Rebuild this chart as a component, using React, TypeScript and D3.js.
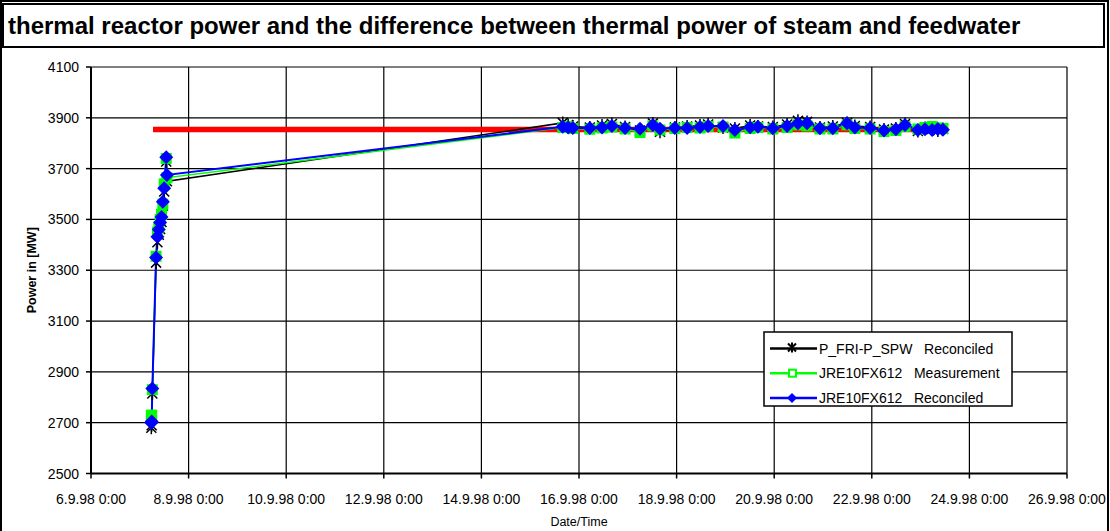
import React, { useEffect, useRef } from 'react';
import * as d3 from 'd3';

const parseTime = d3.timeParse('%d.%m.%y %H:%M');

const chartTitle = 'thermal reactor power and the difference between thermal power of steam and feedwater';

// sample timestamps shared by all three series
const times = [
  '07.09.98 05:40', '07.09.98 05:50', '07.09.98 06:10', '07.09.98 08:00',
  '07.09.98 08:40', '07.09.98 09:20', '07.09.98 10:00', '07.09.98 10:40',
  '07.09.98 11:20', '07.09.98 12:00', '07.09.98 13:00', '07.09.98 13:20',
  '15.09.98 16:00', '15.09.98 18:40', '15.09.98 21:00', '16.09.98 05:20',
  '16.09.98 11:20', '16.09.98 16:10', '16.09.98 22:40', '17.09.98 06:00',
  '17.09.98 12:20', '17.09.98 15:50', '17.09.98 23:10', '18.09.98 05:10',
  '18.09.98 11:30', '18.09.98 15:30', '18.09.98 22:50', '19.09.98 04:40',
  '19.09.98 12:10', '19.09.98 16:00', '19.09.98 23:20', '20.09.98 06:20',
  '20.09.98 11:40', '20.09.98 16:10', '20.09.98 22:30', '21.09.98 04:50',
  '21.09.98 11:50', '21.09.98 15:40', '21.09.98 23:10', '22.09.98 06:00',
  '22.09.98 11:50', '22.09.98 16:20', '22.09.98 22:40', '23.09.98 02:10',
  '23.09.98 05:40', '23.09.98 08:30', '23.09.98 11:00',
];

const friSpwReconciled = [
  2680, 2690, 2815, 3330, 3410, 3440, 3462, 3490, 3555, 3610, 3728, 3650,
  3880, 3872, 3866, 3862, 3870, 3876, 3864, 3850, 3878, 3845, 3862, 3866,
  3870, 3874, 3862, 3858, 3870, 3866, 3864, 3874, 3888, 3884, 3862, 3866,
  3880, 3868, 3864, 3854, 3858, 3876, 3848, 3860, 3856, 3850, 3856,
];

const fx612Measurement = [
  2728, 2730, 2830, 3355, 3450, 3470, 3500, 3520, 3560, 3640, 3740, 3664,
  3862, 3866, 3858, 3855, 3860, 3864, 3856, 3842, 3868, 3852, 3858, 3862,
  3860, 3866, 3864, 3840, 3858, 3862, 3856, 3862, 3872, 3868, 3856, 3856,
  3872, 3858, 3856, 3846, 3850, 3866, 3856, 3862, 3866, 3860, 3858,
];

const fx612Reconciled = [
  2700, 2705, 2835, 3350, 3432, 3460, 3488, 3510, 3570, 3623, 3745, 3675,
  3865, 3862, 3860, 3860, 3862, 3868, 3860, 3857, 3872, 3857, 3860, 3860,
  3864, 3868, 3868, 3852, 3863, 3865, 3859, 3868, 3879, 3879, 3859, 3859,
  3879, 3862, 3860, 3850, 3855, 3872, 3852, 3855, 3852, 3856, 3853,
];

// red reference line
const limitTimes = ['07.09.98 06:30', '23.09.98 11:00'];
const limitValues = [3854, 3854];

const xTicks = [
  '06.09.98 00:00', '08.09.98 00:00', '10.09.98 00:00', '12.09.98 00:00',
  '14.09.98 00:00', '16.09.98 00:00', '18.09.98 00:00', '20.09.98 00:00',
  '22.09.98 00:00', '24.09.98 00:00', '26.09.98 00:00',
];
const yTicks = [2500, 2700, 2900, 3100, 3300, 3500, 3700, 3900, 4100];

const legendNames = [
  'P_FRI-P_SPW   Reconciled',
  'JRE10FX612   Measurement',
  'JRE10FX612   Reconciled',
];

const FONT = "'Liberation Sans', Arial, sans-serif";

export default function App() {
  const svgRef = useRef<SVGSVGElement>(null);

  useEffect(() => {
    if (!svgRef.current) return;

    const svg = d3.select(svgRef.current);
    svg.selectAll('*').remove();

    const width = 1110;
    const height = 531;
    const margin = { top: 67, right: 43, bottom: 57.5, left: 91 };
    const innerWidth = width - margin.left - margin.right;
    const innerHeight = height - margin.top - margin.bottom;

    svg.attr('width', width).attr('height', height);

    // outer frame + title box
    svg.append('rect')
      .attr('x', 1).attr('y', 1).attr('width', 1107).attr('height', 560)
      .attr('fill', '#fff').attr('stroke', '#000').attr('stroke-width', 2);
    svg.append('rect')
      .attr('x', 3).attr('y', 4).attr('width', 1101).attr('height', 43)
      .attr('fill', '#fff').attr('stroke', '#000').attr('stroke-width', 2);
    svg.append('text')
      .attr('x', 8).attr('y', 34)
      .attr('font-family', FONT).attr('font-size', '24px').attr('font-weight', 'bold')
      .attr('fill', '#000')
      .text(chartTitle);

    const g = svg.append('g').attr('transform', `translate(${margin.left},${margin.top})`);

    const xDates = xTicks.map((d) => parseTime(d)!);
    const x = d3.scaleTime().domain([xDates[0], xDates[xDates.length - 1]]).range([0, innerWidth]);
    const y = d3.scaleLinear().domain([2500, 4100]).range([innerHeight, 0]);

    // grid
    yTicks.forEach((v) => {
      g.append('line')
        .attr('x1', 0).attr('x2', innerWidth).attr('y1', y(v)).attr('y2', y(v))
        .attr('stroke', '#000').attr('stroke-width', 1.2);
      g.append('line')
        .attr('x1', -5).attr('x2', 0).attr('y1', y(v)).attr('y2', y(v))
        .attr('stroke', '#000').attr('stroke-width', 1.5);
      g.append('text')
        .attr('x', -12).attr('y', y(v) + 5)
        .attr('text-anchor', 'end')
        .attr('font-family', FONT).attr('font-size', '14px').attr('fill', '#000')
        .text(String(v));
    });
    xDates.forEach((d) => {
      g.append('line')
        .attr('x1', x(d)).attr('x2', x(d)).attr('y1', 0).attr('y2', innerHeight)
        .attr('stroke', '#000').attr('stroke-width', 1.2);
      g.append('line')
        .attr('x1', x(d)).attr('x2', x(d)).attr('y1', innerHeight).attr('y2', innerHeight + 5)
        .attr('stroke', '#000').attr('stroke-width', 1.5);
      g.append('text')
        .attr('x', x(d)).attr('y', innerHeight + 30)
        .attr('text-anchor', 'middle')
        .attr('font-family', FONT).attr('font-size', '14px').attr('fill', '#000')
        .text(d3.timeFormat('%-d.%-m.%y %-H:%M')(d));
    });

    // axes
    g.append('line')
      .attr('x1', 0).attr('x2', 0).attr('y1', 0).attr('y2', innerHeight)
      .attr('stroke', '#000').attr('stroke-width', 2);
    g.append('line')
      .attr('x1', 0).attr('x2', innerWidth).attr('y1', innerHeight).attr('y2', innerHeight)
      .attr('stroke', '#000').attr('stroke-width', 2);

    // axis titles
    g.append('text')
      .attr('transform', `translate(${-55},${innerHeight / 2}) rotate(-90)`)
      .attr('text-anchor', 'middle')
      .attr('font-family', FONT).attr('font-size', '12.5px').attr('font-weight', 'bold')
      .text('Power in [MW]');
    g.append('text')
      .attr('x', innerWidth / 2).attr('y', innerHeight + 52)
      .attr('text-anchor', 'middle')
      .attr('font-family', FONT).attr('font-size', '12.5px')
      .text('Date/Time');

    const dates = times.map((t) => parseTime(t)!);
    const line = d3.line<[Date, number]>()
      .x((d) => x(d[0]))
      .y((d) => y(d[1]));

    // red reference line
    const limit: [Date, number][] = limitTimes.map((t, i) => [parseTime(t)!, limitValues[i]]);
    g.append('path')
      .attr('d', line(limit)!)
      .attr('fill', 'none').attr('stroke', '#ff0000').attr('stroke-width', 5.5);

    const starPath = 'M-5,-5L5,5M-5,5L5,-5M0,-6.5L0,6.5';
    const diamondPath = 'M0,-7L7,0L0,7L-7,0Z';

    const series = [
      { values: friSpwReconciled, color: '#000000', width: 1.5 },
      { values: fx612Measurement, color: '#00ff00', width: 1.5 },
      { values: fx612Reconciled, color: '#0000ff', width: 2 },
    ];

    series.forEach((s) => {
      const pts: [Date, number][] = dates.map((d, i) => [d, s.values[i]]);
      g.append('path')
        .attr('d', line(pts)!)
        .attr('fill', 'none').attr('stroke', s.color).attr('stroke-width', s.width);
    });

    // markers
    const blackPts: [Date, number][] = dates.map((d, i) => [d, friSpwReconciled[i]]);
    g.selectAll('path.star').data(blackPts).enter().append('path')
      .attr('class', 'star')
      .attr('d', starPath)
      .attr('transform', (d) => `translate(${x(d[0])},${y(d[1])})`)
      .attr('fill', 'none').attr('stroke', '#000').attr('stroke-width', 1.5);

    const greenPts: [Date, number][] = dates.map((d, i) => [d, fx612Measurement[i]]);
    g.selectAll('rect.sq').data(greenPts).enter().append('rect')
      .attr('class', 'sq')
      .attr('x', (d) => x(d[0]) - 5.5).attr('y', (d) => y(d[1]) - 5.5)
      .attr('width', 11).attr('height', 11)
      .attr('fill', '#00ff00');

    const bluePts: [Date, number][] = dates.map((d, i) => [d, fx612Reconciled[i]]);
    g.selectAll('path.dia').data(bluePts).enter().append('path')
      .attr('class', 'dia')
      .attr('d', diamondPath)
      .attr('transform', (d) => `translate(${x(d[0])},${y(d[1])})`)
      .attr('fill', '#0000ff');

    // legend
    const lg = svg.append('g').attr('transform', 'translate(764,332)');
    lg.append('rect')
      .attr('width', 248).attr('height', 74)
      .attr('fill', '#fff').attr('stroke', '#000').attr('stroke-width', 1.5);
    legendNames.forEach((name, i) => {
      const ly = 16.5 + i * 24.7;
      const s = series[i];
      lg.append('line')
        .attr('x1', 6).attr('x2', 53).attr('y1', ly).attr('y2', ly)
        .attr('stroke', s.color).attr('stroke-width', 2.5);
      if (i === 0) {
        lg.append('path').attr('d', 'M-4,-4L4,4M-4,4L4,-4M0,-5L0,5')
          .attr('transform', `translate(28,${ly - 1})`)
          .attr('fill', 'none').attr('stroke', '#000').attr('stroke-width', 2);
      } else if (i === 1) {
        lg.append('rect')
          .attr('x', 25).attr('y', ly - 3.5).attr('width', 7).attr('height', 7)
          .attr('fill', '#fff').attr('stroke', '#00ff00').attr('stroke-width', 2);
      } else {
        lg.append('path').attr('d', 'M0,-5L5,0L0,5L-5,0Z')
          .attr('transform', `translate(28,${ly})`)
          .attr('fill', '#0000ff');
      }
      lg.append('text')
        .attr('x', 55).attr('y', ly + 5)
        .attr('font-family', FONT).attr('font-size', '14px').attr('fill', '#000')
        .style('white-space', 'pre')
        .text(name);
    });
  }, []);

  return (
    <svg ref={svgRef} style={{ position: 'absolute', left: 0, top: 0, display: 'block' }}></svg>
  );
}
